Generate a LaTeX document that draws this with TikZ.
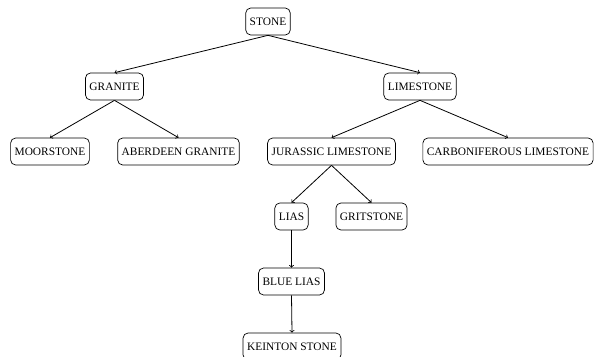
\documentclass[tikz,border=0pt]{standalone}
\usepackage{fontspec}
\setmainfont{Liberation Serif}
\begin{document}
\begin{tikzpicture}[>=to, x=1pt, y=-1pt,
  stone/.style={draw, line width=0.7pt, rounded corners=5pt, minimum height=27pt, inner xsep=4pt,
    font=\fontsize{11.4}{13}\selectfont},
  link/.style={->, thick}]
  \useasboundingbox (0, 0) rectangle (594, 356);
  % top levels
  \node[stone] (stone) at (268, 21.5) {STONE};
  \node[stone] (granite) at (114.5, 86.5) {GRANITE};
  \node[stone] (limestone) at (420, 86.5) {LIMESTONE};
  % third level
  \node[stone] (moor) at (50, 151.5) {MOORSTONE};
  \node[stone] (aberdeen) at (178.5, 151.5) {ABERDEEN GRANITE};
  \node[stone] (jurassic) at (331.5, 151.5) {JURASSIC LIMESTONE};
  \node[stone] (carbon) at (508, 151.5) {CARBONIFEROUS LIMESTONE};
  % lower levels
  \node[stone] (lias) at (291.5, 216.5) {LIAS};
  \node[stone] (grit) at (371.5, 216.5) {GRITSTONE};
  \node[stone] (blue) at (291.5, 281.5) {BLUE LIAS};
  \node[stone] (keinton) at (292, 346.5) {KEINTON STONE};
  \draw[link] (stone.south) -- (granite.north);
  \draw[link] (stone.south) -- (limestone.north);
  \draw[link] (granite.south) -- (moor.north);
  \draw[link] (granite.south) -- (aberdeen.north);
  \draw[link] (limestone.south) -- (jurassic.north);
  \draw[link] (limestone.south) -- (carbon.north);
  \draw[link] (jurassic.south) -- (lias.north);
  \draw[link] (jurassic.south) -- (grit.north);
  \draw[link] (lias.south) -- (blue.north);
  \draw[link] (blue.south) -- (keinton.north);
\end{tikzpicture}
\end{document}
